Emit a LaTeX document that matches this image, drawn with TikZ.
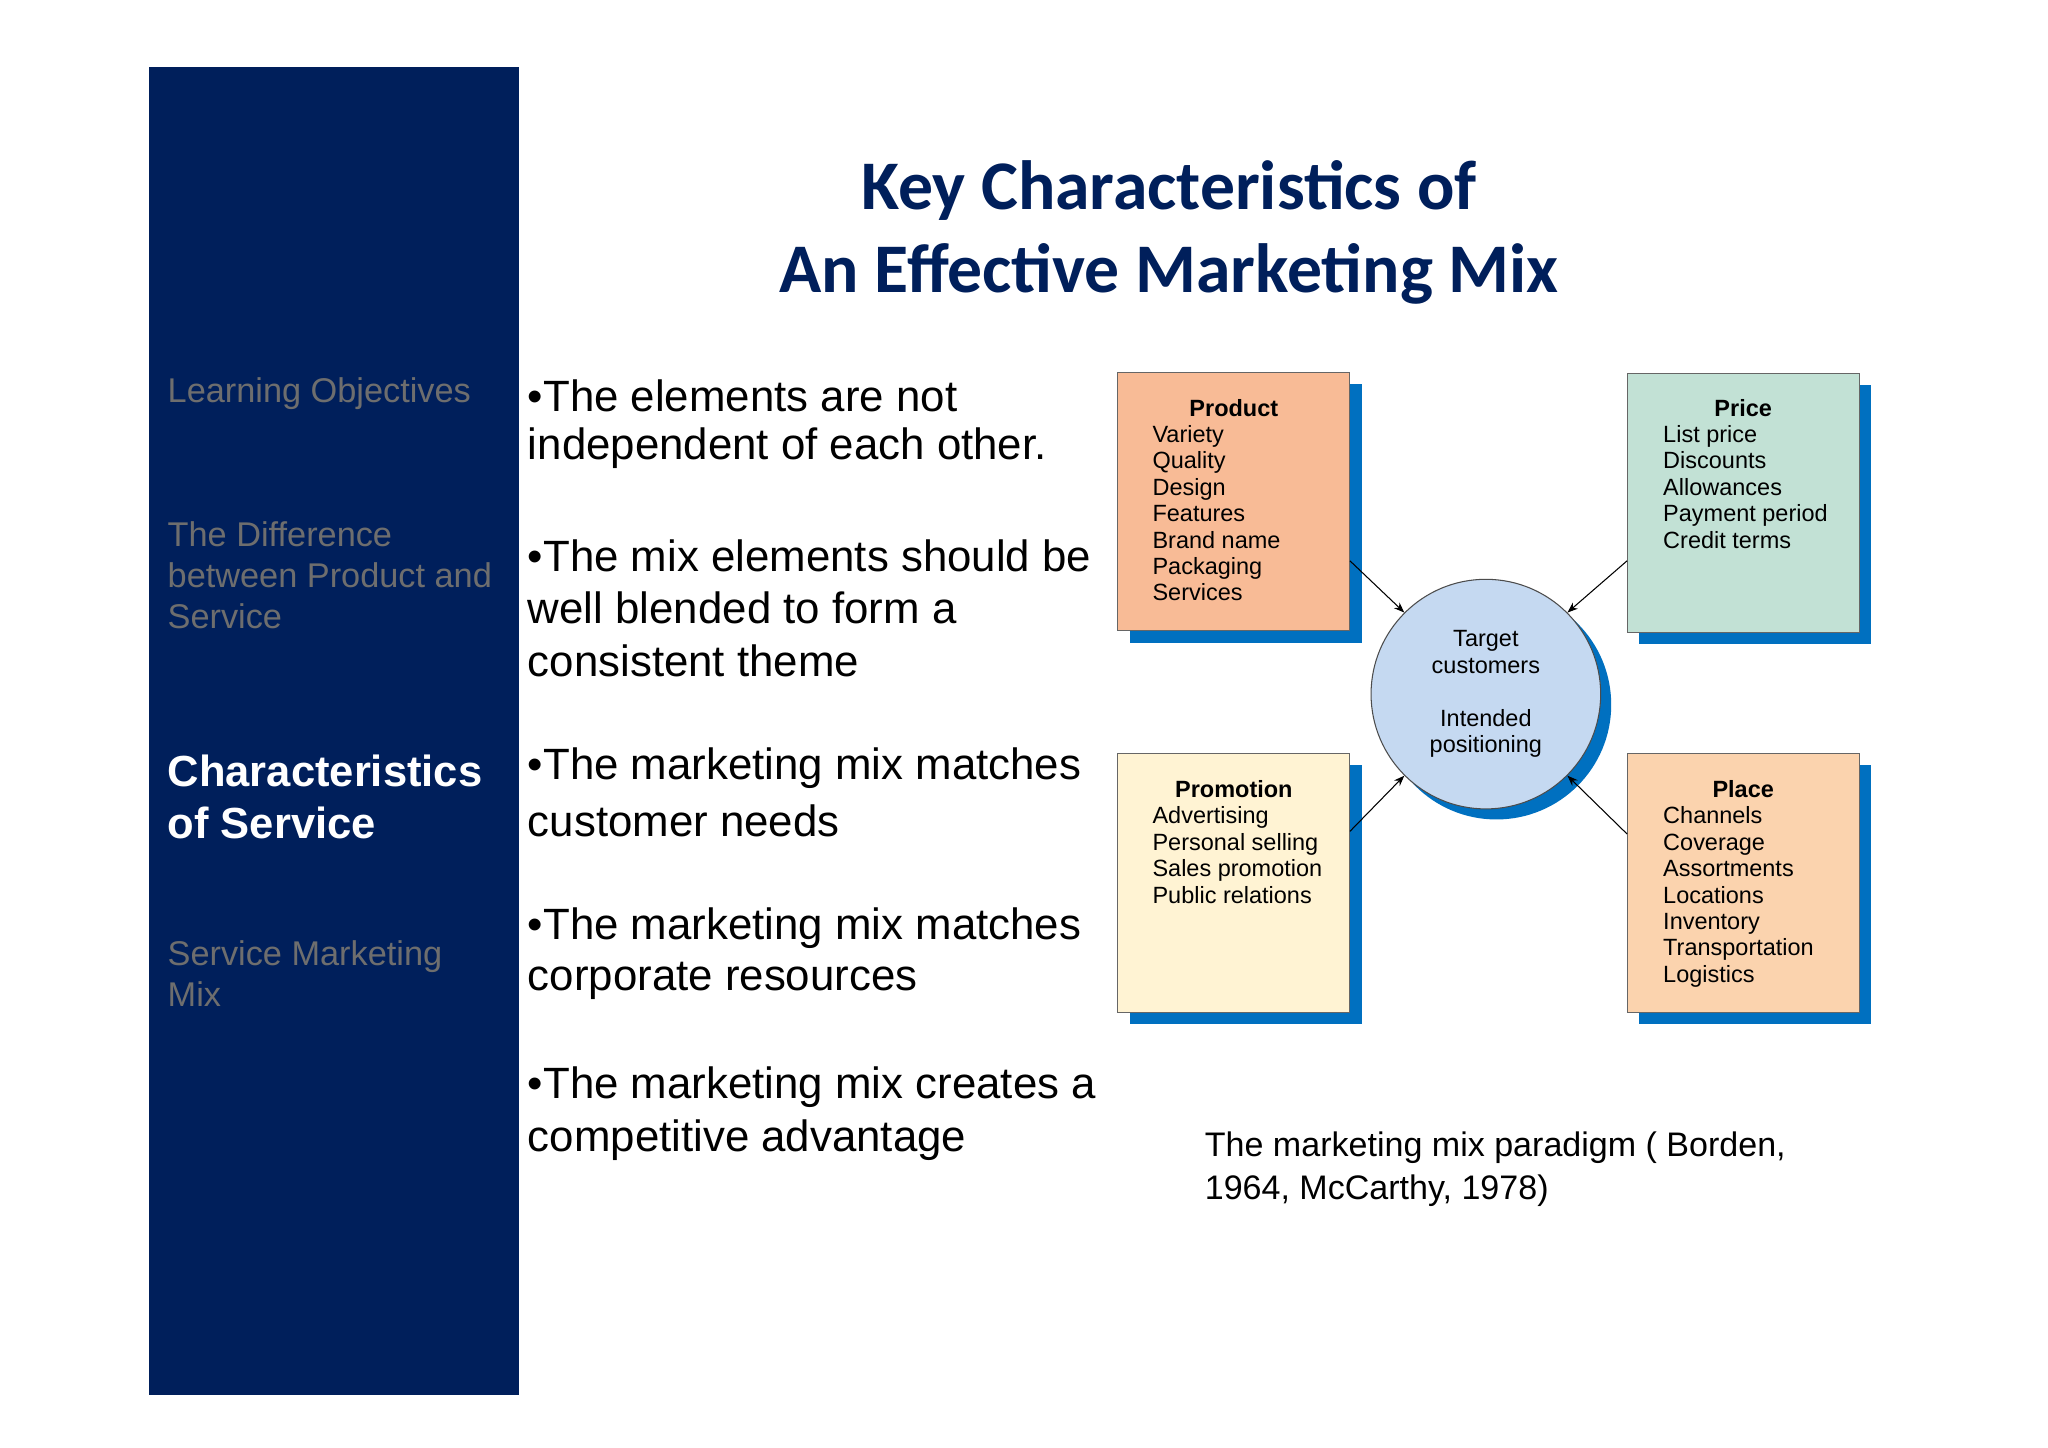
\documentclass[tikz,border=0pt]{standalone}
\usepackage{fontspec}
\setmainfont{Liberation Sans}
\newfontfamily\titlefont{Carlito}
\usetikzlibrary{arrows.meta}
\definecolor{navy}{HTML}{001F5B}
\definecolor{shad}{HTML}{0070C0}
\definecolor{sgray}{HTML}{6E6E6E}
\definecolor{cprod}{HTML}{F8BB96}
\definecolor{cprice}{HTML}{C2E1D5}
\definecolor{cpromo}{HTML}{FFF3D3}
\definecolor{cplace}{HTML}{FBD3AE}
\definecolor{ccirc}{HTML}{C5D9F1}
\begin{document}
\begin{tikzpicture}[x=0.5pt,y=-0.5pt,
  side/.style={anchor=west,text=sgray,font=\fontsize{13}{15.6}\selectfont,align=left},
  bul/.style={anchor=west,font=\fontsize{16.6}{20}\selectfont},
  mbox/.style={draw=black!60,line width=0.4pt,minimum width=88pt,minimum height=98pt,inner sep=0pt},
  btxt/.style={anchor=north west,align=left,font=\fontsize{8.9}{10}\selectfont,inner sep=0pt},
  bttl/.style={anchor=center,font=\bfseries\fontsize{8.9}{10}\selectfont,inner sep=0pt},
  arr/.style={-{Stealth[length=4pt,width=3pt]},line width=0.4pt}]
\useasboundingbox (0,0) rectangle (1552,1097);
\fill[white] (0,0) rectangle (1552,1097);
\fill[navy] (113,51) rectangle (393,1057);
\node[side] (s1) at (120,298) {Learning Objectives};
\node[side] (s2) at (120,436) {The Difference\\between Product and\\Service};
\node[anchor=west,text=white,font=\bfseries\fontsize{16.5}{20}\selectfont,align=left] (s3) at (120,604) {Characteristics\\of Service};
\node[side] (s4) at (120,738) {Service Marketing\\Mix};
\node[text=navy,font=\titlefont\bfseries\fontsize{26.4}{31.5}\selectfont,align=center] (title) at (886,176) {Key Characteristics of\\An Effective Marketing Mix};
\node[bul] (b1a) at (393,300) {•The elements are not};
\node[bul] (b1b) at (393,340) {independent of each other.};
\node[bul] (b2a) at (393,421) {•The mix elements should be};
\node[bul] (b2b) at (393,461) {well blended to form a};
\node[bul] (b2c) at (393,501) {consistent theme};
\node[bul] (b3a) at (393,582) {•The marketing mix matches};
\node[bul] (b3b) at (393,622) {customer needs};
\node[bul] (b4a) at (393,703) {•The marketing mix matches};
\node[bul] (b4b) at (393,743) {corporate resources};
\node[bul] (b5a) at (393,824) {•The marketing mix creates a};
\node[bul] (b5b) at (393,864) {competitive advantage};
% boxes
\foreach \n/\cx/\cy/\c in {prod/935/380/cprod,price/1321/381/cprice,promo/935/669/cpromo,place/1321/669/cplace}{
  \fill[shad] (\cx+9,\cy+9) +(-88,-98) rectangle +(88,98);
  \node[mbox,fill=\c] (\n) at (\cx,\cy) {};
}
\fill[shad] (1134,534) circle (87);
\node[circle,draw=black!70,line width=0.4pt,fill=ccirc,minimum size=87pt,inner sep=0pt,align=center,font=\fontsize{8.9}{10}\selectfont] (tc) at (1126,526) {Target\\customers\\[10pt]Intended\\positioning};
\node[bttl] at (935,309) {Product};
\node[btxt] at (873,322) {Variety\\Quality\\Design\\Features\\Brand name\\Packaging\\Services};
\node[bttl] at (1321,309) {Price};
\node[btxt] at (1260,322) {List price\\Discounts\\Allowances\\Payment period\\Credit terms};
\node[bttl] at (935,598) {Promotion};
\node[btxt] at (873,611) {Advertising\\Personal selling\\Sales promotion\\Public relations};
\node[bttl] at (1321,598) {Place};
\node[btxt] at (1260,611) {Channels\\Coverage\\Assortments\\Locations\\Inventory\\Transportation\\Logistics};
\coordinate (a1) at (1023,425);
\coordinate (a2) at (1233,425);
\coordinate (a3) at (1023,630);
\coordinate (a4) at (1233,632);
\draw[arr] (a1) -- (tc.135);
\draw[arr] (a2) -- (tc.45);
\draw[arr] (a3) -- (tc.225);
\draw[arr] (a4) -- (tc.315);
\node[anchor=west,align=left,font=\fontsize{12.9}{16}\selectfont] (cap) at (906,886) {The marketing mix paradigm ( Borden,\\1964, McCarthy, 1978)};
\end{tikzpicture}
\end{document}
